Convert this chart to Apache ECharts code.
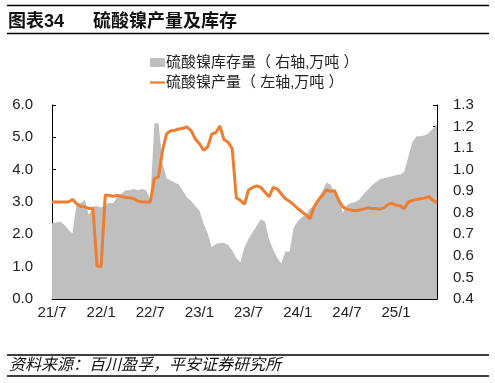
<!DOCTYPE html>
<html><head><meta charset="utf-8">
<script src="https://cdn.jsdelivr.net/npm/echarts@6/dist/echarts.min.js"></script>
<style>html,body{margin:0;padding:0;background:#fff}#c{width:495px;height:383px}</style>
</head><body><div id="c"></div>
<script>
// half-monthly periods from 2021-07 (first half) to 2025-06 (first half)
const startYear = 2021, startMonth = 7, periodCount = 95;
const categories = [];
for (let i = 0; i < periodCount; i++) {
  const m = startMonth - 1 + Math.floor(i / 2);
  const y = startYear + Math.floor(m / 12);
  const mm = (m % 12) + 1;
  categories.push(y + '-' + String(mm).padStart(2, '0') + (i % 2 === 0 ? '-01' : '-16'));
}
// 硫酸镍产量（左轴,万吨）
const production = [
  3.0,3.0,3.0,3.0,3.0,3.08,2.95,2.86,2.85,2.8,
  2.8,1.02,1.0,3.22,3.2,3.18,3.2,3.17,3.14,3.13,
  3.1,3.02,3.0,3.0,3.0,3.73,3.78,4.6,5.12,5.2,
  5.22,5.26,5.28,5.32,5.2,4.95,4.8,4.6,4.7,5.1,
  5.15,5.35,4.93,4.85,4.65,3.13,3.05,2.93,3.37,3.45,
  3.5,3.45,3.3,3.16,3.45,3.4,3.25,3.1,3.02,2.92,
  2.8,2.7,2.6,2.48,2.85,3.05,3.2,3.37,3.33,3.35,
  3.05,2.85,2.78,2.75,2.73,2.75,2.78,2.82,2.8,2.8,
  2.78,2.82,2.92,2.96,2.9,2.88,2.8,3.0,3.05,3.08,
  3.1,3.12,3.17,3.05,2.98
];
// 硫酸镍库存量（右轴,万吨）
const inventory = [
  0.751,0.755,0.76,0.745,0.72,0.705,0.845,0.845,0.86,0.79,
  0.83,0.83,0.825,0.84,0.845,0.845,0.875,0.89,0.905,0.905,
  0.91,0.905,0.91,0.905,0.86,1.215,1.215,1.03,0.96,0.95,
  0.94,0.93,0.9,0.87,0.855,0.83,0.81,0.75,0.705,0.64,
  0.655,0.66,0.66,0.65,0.625,0.59,0.57,0.64,0.68,0.71,
  0.74,0.77,0.76,0.675,0.63,0.59,0.565,0.62,0.62,0.73,
  0.76,0.78,0.79,0.82,0.83,0.87,0.9,0.94,0.93,0.89,
  0.87,0.8,0.835,0.845,0.85,0.86,0.885,0.905,0.925,0.94,
  0.955,0.96,0.965,0.97,0.975,0.978,0.99,1.06,1.13,1.155,
  1.155,1.16,1.17,1.19,1.21
];
const titleNo = '图表34';
const titleText = '硫酸镍产量及库存';
const sourceText = '资料来源：百川盈孚，平安证券研究所';
const invName = '硫酸镍库存量（ 右轴,万吨 ）';
const prodName = '硫酸镍产量（ 左轴,万吨 ）';

const FONT = '"Liberation Sans", "Noto Sans CJK SC", sans-serif';
const chart = echarts.init(document.getElementById('c'));
const showIdx = (i) => i % 12 === 0;
chart.setOption({
  animation: false,
  textStyle: { fontFamily: FONT },
  grid: { left: 52, right: 58, top: 105, bottom: 84 },
  legend: {
    orient: 'vertical', left: 150, top: 55, itemGap: 5, padding: 0,
    itemWidth: 15, itemHeight: 9,
    textStyle: { fontSize: 15, color: '#222', fontFamily: FONT, padding: [0,0,0,-4] },
    data: [{ name: invName, icon: 'rect' }, { name: prodName, icon: 'path://M0,0H20V3H0Z' }]
  },
  xAxis: {
    type: 'category', data: categories, boundaryGap: false,
    axisLine: { lineStyle: { color: '#000', width: 1 } },
    axisTick: { inside: true, length: 4, interval: (i) => showIdx(i), lineStyle: { color: '#000' } },
    axisLabel: {
      interval: (i) => showIdx(i), color: '#222', fontSize: 15, margin: 6, fontFamily: FONT,
      formatter: (v) => { const p = v.split('-'); return p[0].slice(2) + '/' + (+p[1]); }
    },
    splitLine: { show: false }
  },
  yAxis: [
    { type: 'value', min: 0, max: 6, interval: 1, position: 'left',
      axisLine: { show: true, lineStyle: { color: '#000' } },
      axisTick: { show: true, inside: true, length: 4, lineStyle: { color: '#000' } },
      axisLabel: { formatter: (v) => v.toFixed(1), color: '#222', fontSize: 15, margin: 19, fontFamily: FONT },
      splitLine: { show: false } },
    { type: 'value', min: 0.4, max: 1.3, interval: 0.1, position: 'right',
      axisLine: { show: true, lineStyle: { color: '#000' } },
      axisTick: { show: true, inside: true, length: 4, lineStyle: { color: '#000' } },
      axisLabel: { formatter: (v) => v.toFixed(1), color: '#222', fontSize: 15, margin: 16, fontFamily: FONT },
      splitLine: { show: false } }
  ],
  series: [
    { name: invName, type: 'line', yAxisIndex: 1, data: inventory, symbol: 'none',
      itemStyle: { color: '#BFBFBF' }, lineStyle: { width: 0, color: '#BFBFBF' },
      areaStyle: { color: '#BFBFBF', opacity: 1 }, z: 1 },
    { name: prodName, type: 'line', yAxisIndex: 0, data: production, symbol: 'none',
      itemStyle: { color: '#ED7D31' }, lineStyle: { width: 3, color: '#ED7D31' }, z: 3 }
  ],
  graphic: [
    { type: 'line', shape: { x1: 7, y1: 5.5, x2: 489, y2: 5.5 }, style: { stroke: '#000', lineWidth: 1.5 } },
    { type: 'text', left: 8, top: 13, style: { text: titleNo, font: 'bold 18px ' + FONT, fill: '#111' } },
    { type: 'text', left: 93, top: 13, style: { text: titleText, font: 'bold 18px ' + FONT, fill: '#111' } },
    { type: 'line', shape: { x1: 7, y1: 33.5, x2: 489, y2: 33.5 }, style: { stroke: '#000', lineWidth: 1.5 } },
    { type: 'line', shape: { x1: 7, y1: 355, x2: 489, y2: 355 }, style: { stroke: '#000', lineWidth: 1.5 } },
    { type: 'text', left: 9, top: 358, style: { text: sourceText, font: 'italic 16px ' + FONT, fill: '#111' } },
    { type: 'line', shape: { x1: 7, y1: 376, x2: 489, y2: 376 }, style: { stroke: '#000', lineWidth: 1.5 } }
  ]
});
</script></body></html>
